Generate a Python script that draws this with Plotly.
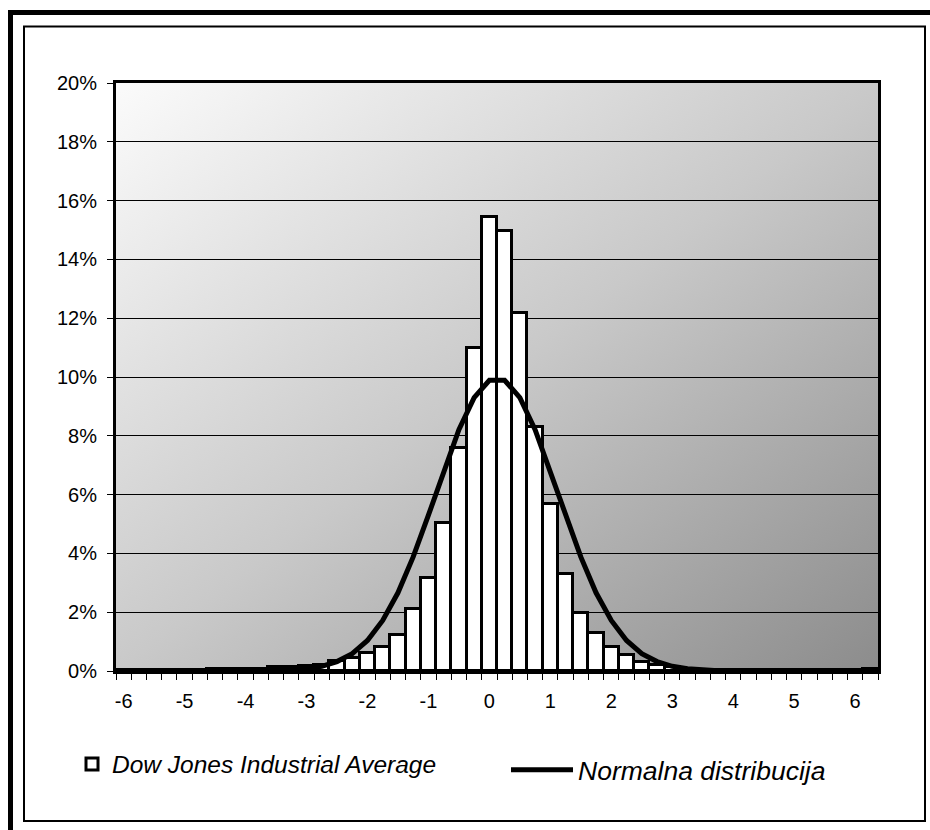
import base64
import plotly.graph_objects as go

# ---------------- data ----------------
categories = [-6.0, -5.75, -5.5, -5.25, -5.0, -4.75, -4.5, -4.25, -4.0, -3.75,
              -3.5, -3.25, -3.0, -2.75, -2.5, -2.25, -2.0, -1.75, -1.5, -1.25,
              -1.0, -0.75, -0.5, -0.25, 0.0, 0.25, 0.5, 0.75, 1.0, 1.25,
              1.5, 1.75, 2.0, 2.25, 2.5, 2.75, 3.0, 3.25, 3.5, 3.75,
              4.0, 4.25, 4.5, 4.75, 5.0, 5.25, 5.5, 5.75, 6.0, 6.25]

dow_jones_pct = [0.05, 0.03, 0.03, 0.03, 0.03, 0.03, 0.06, 0.06, 0.07, 0.07,
                 0.12, 0.12, 0.18, 0.22, 0.33, 0.45, 0.62, 0.82, 1.22, 2.12,
                 3.18, 5.02, 7.60, 11.00, 15.45, 14.95, 12.17, 8.30, 5.68, 3.30,
                 1.98, 1.30, 0.80, 0.53, 0.30, 0.20, 0.12, 0.07, 0.05, 0.04,
                 0.03, 0.03, 0.03, 0.03, 0.02, 0.02, 0.02, 0.02, 0.03, 0.06]

normal_pct = [0.0, 0.0, 0.0, 0.0, 0.0, 0.0, 0.0, 0.0, 0.0, 0.0,
              0.01, 0.03, 0.08, 0.16, 0.32, 0.59, 1.04, 1.72, 2.66, 3.88,
              5.30, 6.80, 8.21, 9.30, 9.89, 9.89, 9.30, 8.21, 6.80, 5.30,
              3.88, 2.66, 1.72, 1.04, 0.59, 0.32, 0.16, 0.08, 0.03, 0.01,
              0.0, 0.0, 0.0, 0.0, 0.0, 0.0, 0.0, 0.0, 0.0, 0.0]

x_tick_values = [-6, -5, -4, -3, -2, -1, 0, 1, 2, 3, 4, 5, 6]
x_tick_labels = ["-6", "-5", "-4", "-3", "-2", "-1", "0", "1", "2", "3", "4", "5", "6"]
y_tick_values = [0, 2, 4, 6, 8, 10, 12, 14, 16, 18, 20]
y_tick_labels = ["0%", "2%", "4%", "6%", "8%", "10%", "12%", "14%", "16%", "18%", "20%"]

series_bar_name = "Dow Jones Industrial Average"
series_line_name = "Normalna distribucija"

# ---------------- layout geometry ----------------
W, H = 930, 830
L, R, T, B = 116, 878, 83, 671


def px2x(p):
    return (p - L) / (R - L)


def py2y(p):
    return (B - p) / (B - T)


bin_w = 0.25
boundaries = [categories[0] - bin_w / 2 + i * bin_w for i in range(len(categories) + 1)]

FONT = "Liberation Sans, Arial, sans-serif"

svg = ('<svg xmlns="http://www.w3.org/2000/svg" width="762" height="588" '
       'viewBox="0 0 762 588" preserveAspectRatio="none"><defs>'
       '<linearGradient id="g" x1="0" y1="0" x2="1" y2="1">'
       '<stop offset="0" stop-color="#fbfbfb"/>'
       '<stop offset="0.5" stop-color="#c9c9c9"/>'
       '<stop offset="1" stop-color="#8c8c8c"/>'
       '</linearGradient></defs>'
       '<rect width="762" height="588" fill="url(#g)"/></svg>')
bg_src = "data:image/svg+xml;base64," + base64.b64encode(svg.encode()).decode()

fig = go.Figure()

fig.add_trace(go.Bar(
    x=categories, y=dow_jones_pct, width=bin_w,
    name=series_bar_name, showlegend=True,
    marker=dict(color="white", line=dict(color="black", width=3)),
    legend="legend",
))

fig.add_trace(go.Scatter(
    x=categories, y=normal_pct, mode="lines",
    name=series_line_name, showlegend=True,
    line=dict(color="black", width=5),
    legend="legend2",
))

fig.update_layout(
    width=W, height=H,
    margin=dict(l=L, r=W - R, t=T, b=H - B, pad=0),
    paper_bgcolor="white",
    plot_bgcolor="rgba(0,0,0,0)",
    showlegend=True,
    bargap=0,
    font=dict(family=FONT, color="black", size=20),
    images=[dict(source=bg_src, xref="paper", yref="paper", x=0, y=1,
                 sizex=1, sizey=1, sizing="stretch", xanchor="left",
                 yanchor="top", layer="below")],
    xaxis=dict(
        range=[boundaries[0], boundaries[-1]],
        tickmode="array", tickvals=x_tick_values, ticktext=x_tick_labels,
        ticks="", showgrid=False, zeroline=False,
        showline=True, linecolor="black", linewidth=3, mirror=True,
        tickfont=dict(family=FONT, size=20, color="black"),
        ticklabelstandoff=10,
        minor=dict(tickmode="array", tickvals=boundaries, ticks="outside",
                   ticklen=6, tickwidth=1, tickcolor="black", showgrid=False),
    ),
    yaxis=dict(
        range=[0, 20], tickmode="array", tickvals=y_tick_values,
        ticktext=y_tick_labels, ticks="outside", ticklen=6, tickwidth=1,
        tickcolor="black",
        showgrid=True, gridcolor="black", gridwidth=1, zeroline=False,
        showline=True, linecolor="black", linewidth=3, mirror=True,
        tickfont=dict(family=FONT, size=20, color="black"),
        ticklabelstandoff=6,
    ),
    legend=dict(
        x=px2x(72), y=py2y(764), xanchor="left", yanchor="middle",
        orientation="h", bgcolor="rgba(0,0,0,0)", borderwidth=0,
        font=dict(family=FONT, size=24.5, color="black", style="italic"),
        itemwidth=30, visible=True,
    ),
    legend2=dict(
        x=px2x(506), y=py2y(770), xanchor="left", yanchor="middle",
        orientation="h", bgcolor="rgba(0,0,0,0)", borderwidth=0,
        font=dict(family=FONT, size=26.5, color="black", style="italic"),
        itemwidth=62, visible=True,
    ),
    shapes=[
        dict(type="rect", xref="paper", yref="paper",
             x0=px2x(10.5), y0=py2y(12.5), x1=px2x(960), y1=py2y(860),
             line=dict(color="black", width=5), fillcolor="rgba(0,0,0,0)"),
        dict(type="rect", xref="paper", yref="paper",
             x0=px2x(24), y0=py2y(26.5), x1=px2x(925), y1=py2y(821),
             line=dict(color="black", width=2), fillcolor="rgba(0,0,0,0)"),
    ],
)

fig.write_html("out.html")
